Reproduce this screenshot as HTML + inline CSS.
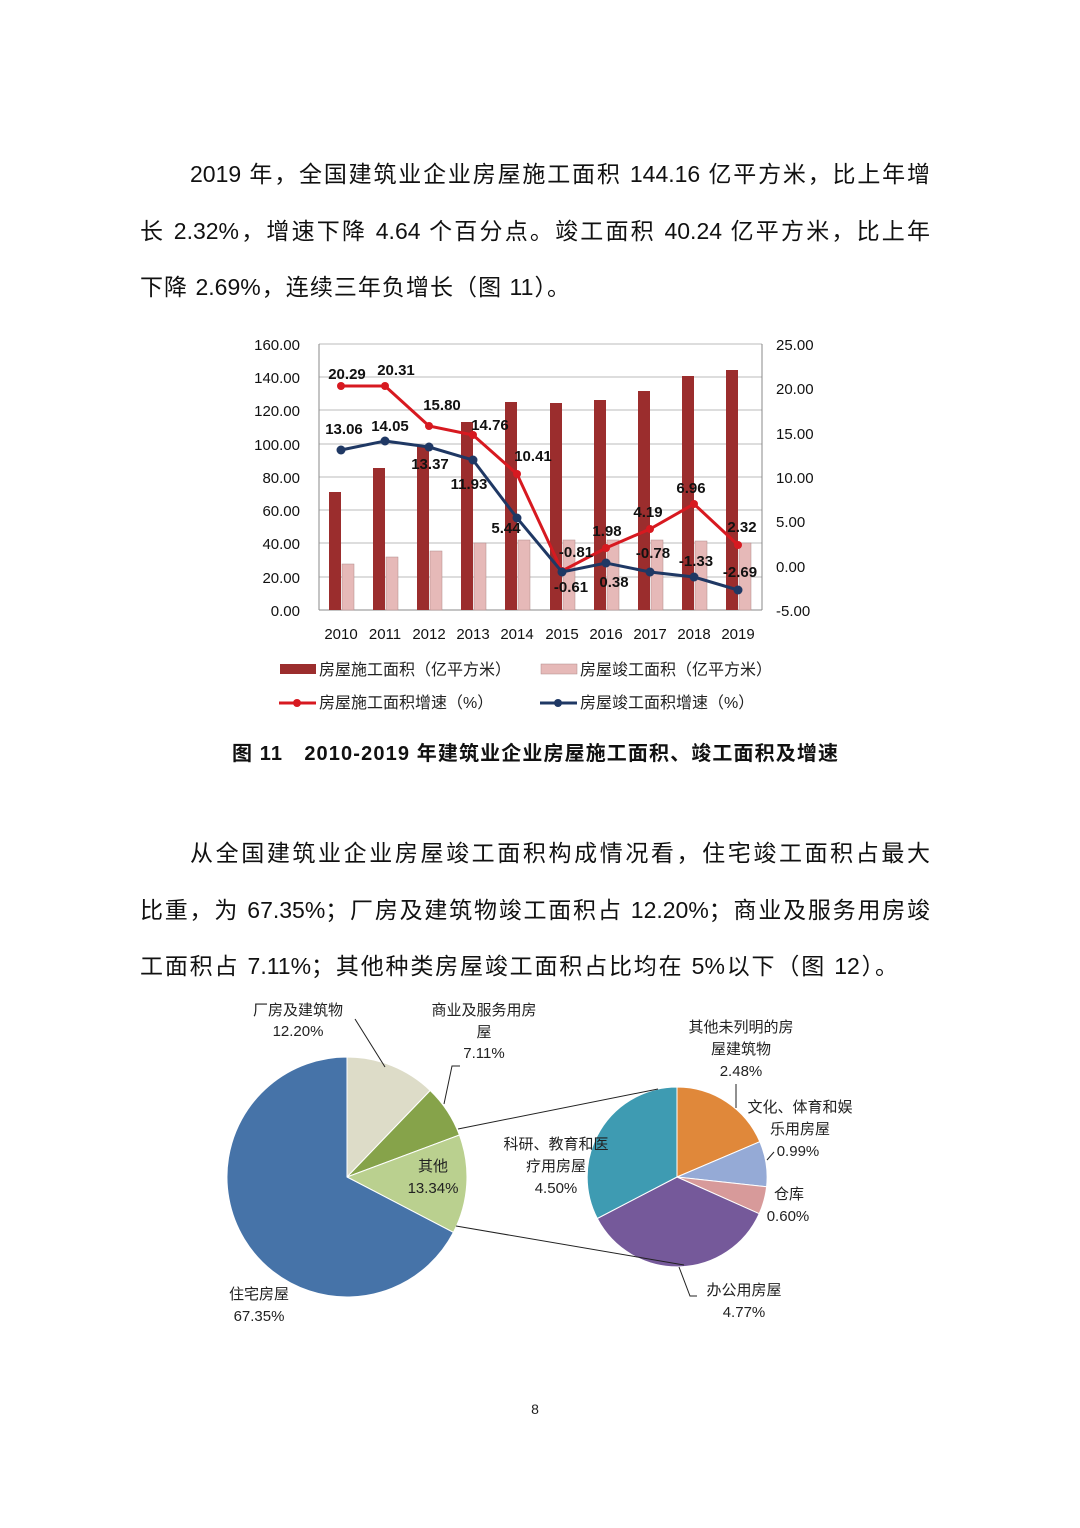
<!DOCTYPE html>
<html><head><meta charset="utf-8"><style>
body{margin:0;background:#fff;}
.pg{position:relative;width:1080px;height:1528px;background:#fff;overflow:hidden;font-family:"Liberation Sans","Noto Sans CJK SC",sans-serif;color:#111;}
.ln{position:absolute;font-size:23px;height:30px;line-height:30px;text-align:justify;text-align-last:justify;white-space:nowrap;}
</style></head><body><div class="pg">
<div class="ln" style="left:190px;top:159px;width:740px;">2019 年，全国建筑业企业房屋施工面积 144.16 亿平方米，比上年增</div>
<div class="ln" style="left:140px;top:216px;width:790px;">长 2.32%，增速下降 4.64 个百分点。竣工面积 40.24 亿平方米，比上年</div>
<div class="ln" style="left:140px;top:272px;width:430px;">下降 2.69%，连续三年负增长（图 11）。</div>
<div class="ln" style="left:190px;top:838px;width:740px;">从全国建筑业企业房屋竣工面积构成情况看，住宅竣工面积占最大</div>
<div class="ln" style="left:140px;top:895px;width:790px;">比重，为 67.35%；厂房及建筑物竣工面积占 12.20%；商业及服务用房竣</div>
<div class="ln" style="left:140px;top:951px;width:758px;">工面积占 7.11%；其他种类房屋竣工面积占比均在 5%以下（图 12）。</div>
<svg width="1080" height="1528" style="position:absolute;left:0;top:0" font-family="Liberation Sans, Noto Sans CJK SC, sans-serif">
<g stroke="#bbb" stroke-width="1">
<line x1="319" y1="344" x2="762" y2="344"/><line x1="319" y1="377" x2="762" y2="377"/><line x1="319" y1="410" x2="762" y2="410"/><line x1="319" y1="444" x2="762" y2="444"/><line x1="319" y1="477" x2="762" y2="477"/><line x1="319" y1="510" x2="762" y2="510"/><line x1="319" y1="543" x2="762" y2="543"/><line x1="319" y1="577" x2="762" y2="577"/>
</g>
<g stroke="#888" stroke-width="1"><line x1="319" y1="344" x2="319" y2="610"/><line x1="762" y1="344" x2="762" y2="610"/><line x1="319" y1="610" x2="762" y2="610"/></g>
<g font-size="15" fill="#111" text-anchor="end">
<text x="300" y="350">160.00</text><text x="300" y="383">140.00</text><text x="300" y="416">120.00</text><text x="300" y="450">100.00</text><text x="300" y="483">80.00</text><text x="300" y="516">60.00</text><text x="300" y="549">40.00</text><text x="300" y="583">20.00</text><text x="300" y="616">0.00</text>
</g>
<g font-size="15" fill="#111">
<text x="776" y="350">25.00</text><text x="776" y="394">20.00</text><text x="776" y="439">15.00</text><text x="776" y="483">10.00</text><text x="776" y="527">5.00</text><text x="776" y="572">0.00</text><text x="776" y="616">-5.00</text>
</g>
<g font-size="15" fill="#111" text-anchor="middle">
<text x="341" y="639">2010</text><text x="385" y="639">2011</text><text x="429" y="639">2012</text><text x="473" y="639">2013</text><text x="517" y="639">2014</text><text x="562" y="639">2015</text><text x="606" y="639">2016</text><text x="650" y="639">2017</text><text x="694" y="639">2018</text><text x="738" y="639">2019</text>
</g>
<g fill="#9B2D2D">
<rect x="329" y="492" width="12" height="118"/><rect x="373" y="468" width="12" height="142"/><rect x="417" y="446" width="12" height="164"/><rect x="461" y="422" width="12" height="188"/><rect x="505" y="402" width="12" height="208"/><rect x="550" y="403" width="12" height="207"/><rect x="594" y="400" width="12" height="210"/><rect x="638" y="391" width="12" height="219"/><rect x="682" y="376" width="12" height="234"/><rect x="726" y="370" width="12" height="240"/>
</g>
<g fill="#E6B9B8" stroke="#b08a8a" stroke-width="0.5">
<rect x="342" y="564" width="12" height="46"/><rect x="386" y="557" width="12" height="53"/><rect x="430" y="551" width="12" height="59"/><rect x="474" y="543" width="12" height="67"/><rect x="518" y="540" width="12" height="70"/><rect x="563" y="540" width="12" height="70"/><rect x="607" y="540" width="12" height="70"/><rect x="651" y="540" width="12" height="70"/><rect x="695" y="541" width="12" height="69"/><rect x="739" y="543" width="12" height="67"/>
</g>
<polyline fill="none" stroke="#D71920" stroke-width="3" points="341,386 385,386 429,426 473,435 517,474 562,571 606,548 650,529 694,504 738,545"/>
<g fill="#D71920"><circle cx="341" cy="386" r="4"/><circle cx="385" cy="386" r="4"/><circle cx="429" cy="426" r="4"/><circle cx="473" cy="435" r="4"/><circle cx="517" cy="474" r="4"/><circle cx="562" cy="571" r="4"/><circle cx="606" cy="548" r="4"/><circle cx="650" cy="529" r="4"/><circle cx="694" cy="504" r="4"/><circle cx="738" cy="545" r="4"/></g>
<polyline fill="none" stroke="#1F3864" stroke-width="3" points="341,450 385,441 429,447 473,460 517,518 562,572 606,563 650,572 694,577 738,590"/>
<g fill="#1F3864"><circle cx="341" cy="450" r="4.5"/><circle cx="385" cy="441" r="4.5"/><circle cx="429" cy="447" r="4.5"/><circle cx="473" cy="460" r="4.5"/><circle cx="517" cy="518" r="4.5"/><circle cx="562" cy="572" r="4.5"/><circle cx="606" cy="563" r="4.5"/><circle cx="650" cy="572" r="4.5"/><circle cx="694" cy="577" r="4.5"/><circle cx="738" cy="590" r="4.5"/></g>
<g font-size="15" font-weight="bold" fill="#111" text-anchor="middle">
<text x="347" y="379">20.29</text><text x="396" y="375">20.31</text><text x="442" y="410">15.80</text><text x="490" y="430">14.76</text><text x="533" y="461">10.41</text>
<text x="344" y="434">13.06</text><text x="390" y="431">14.05</text><text x="430" y="469">13.37</text><text x="469" y="489">11.93</text><text x="506" y="533">5.44</text>
<text x="576" y="557">-0.81</text><text x="571" y="592">-0.61</text><text x="607" y="536">1.98</text><text x="614" y="587">0.38</text><text x="648" y="517">4.19</text><text x="653" y="558">-0.78</text><text x="691" y="493">6.96</text><text x="696" y="566">-1.33</text><text x="742" y="532">2.32</text><text x="740" y="577">-2.69</text>
</g>
<rect x="280" y="664" width="36" height="10" fill="#9B2D2D"/>
<text x="319" y="675" font-size="16" fill="#222">房屋施工面积（亿平方米）</text>
<rect x="541" y="664" width="36" height="10" fill="#E6B9B8" stroke="#b08a8a" stroke-width="0.5"/>
<text x="580" y="675" font-size="16" fill="#222">房屋竣工面积（亿平方米）</text>
<line x1="279" y1="703" x2="316" y2="703" stroke="#D71920" stroke-width="3"/><circle cx="297" cy="703" r="4" fill="#D71920"/>
<text x="319" y="708" font-size="16" fill="#222">房屋施工面积增速（%）</text>
<line x1="540" y1="703" x2="577" y2="703" stroke="#1F3864" stroke-width="3"/><circle cx="558" cy="703" r="4" fill="#1F3864"/>
<text x="580" y="708" font-size="16" fill="#222">房屋竣工面积增速（%）</text>
<text x="232" y="760" font-size="20" font-weight="bold" fill="#111" textLength="606" lengthAdjust="spacing">图 11　2010-2019 年建筑业企业房屋施工面积、竣工面积及增速</text>

<g stroke="#fff" stroke-width="1">
<path d="M347,1177 L347,1057 A120,120 0 0,1 430.2,1090.5 Z" fill="#DDDCC8"/>
<path d="M347,1177 L430.2,1090.5 A120,120 0 0,1 459.4,1135 Z" fill="#86A34A"/>
<path d="M347,1177 L459.4,1135 A120,120 0 0,1 453.4,1232.4 Z" fill="#BAD08F"/>
<path d="M347,1177 L453.4,1232.4 A120,120 0 1,1 347,1057 Z" fill="#4673A8"/>
</g>
<g stroke="#fff" stroke-width="1">
<path d="M677,1177 L677,1087 A90,90 0 0,1 759.8,1141.7 Z" fill="#E0883A"/>
<path d="M677,1177 L759.8,1141.7 A90,90 0 0,1 766.6,1186.8 Z" fill="#95AAD6"/>
<path d="M677,1177 L766.6,1186.8 A90,90 0 0,1 759.2,1213.7 Z" fill="#D79A9A"/>
<path d="M677,1177 L759.2,1213.7 A90,90 0 0,1 597.3,1218.5 Z" fill="#75599A"/>
<path d="M677,1177 L597.3,1218.5 A90,90 0 0,1 677,1087 Z" fill="#3E9BB2"/>
</g>
<g stroke="#222" stroke-width="1" fill="none">
<line x1="458" y1="1129" x2="658" y2="1089"/><line x1="456" y1="1226" x2="684" y2="1265"/>
<polyline points="355,1019 385,1067"/><polyline points="460,1066 452,1066 444,1104"/>
<polyline points="736,1084 736,1108"/><polyline points="774,1152 767,1160"/><polyline points="679,1267 690,1296 697,1296"/>
</g>
<g font-size="15" fill="#222" text-anchor="middle">
<text x="298" y="1015">厂房及建筑物</text><text x="298" y="1036">12.20%</text>
<text x="484" y="1015">商业及服务用房</text><text x="484" y="1037">屋</text><text x="484" y="1058">7.11%</text>
<text x="741" y="1032">其他未列明的房</text><text x="741" y="1054">屋建筑物</text><text x="741" y="1076">2.48%</text>
<text x="800" y="1112">文化、体育和娱</text><text x="800" y="1134">乐用房屋</text><text x="798" y="1156">0.99%</text>
<text x="556" y="1149">科研、教育和医</text><text x="556" y="1171">疗用房屋</text><text x="556" y="1193">4.50%</text>
<text x="433" y="1171">其他</text><text x="433" y="1193">13.34%</text>
<text x="789" y="1199">仓库</text><text x="788" y="1221">0.60%</text>
<text x="259" y="1299">住宅房屋</text><text x="259" y="1321">67.35%</text>
<text x="744" y="1295">办公用房屋</text><text x="744" y="1317">4.77%</text>
</g>
<text x="535" y="1414" font-size="14" fill="#222" text-anchor="middle">8</text>
</svg>
</div></body></html>
